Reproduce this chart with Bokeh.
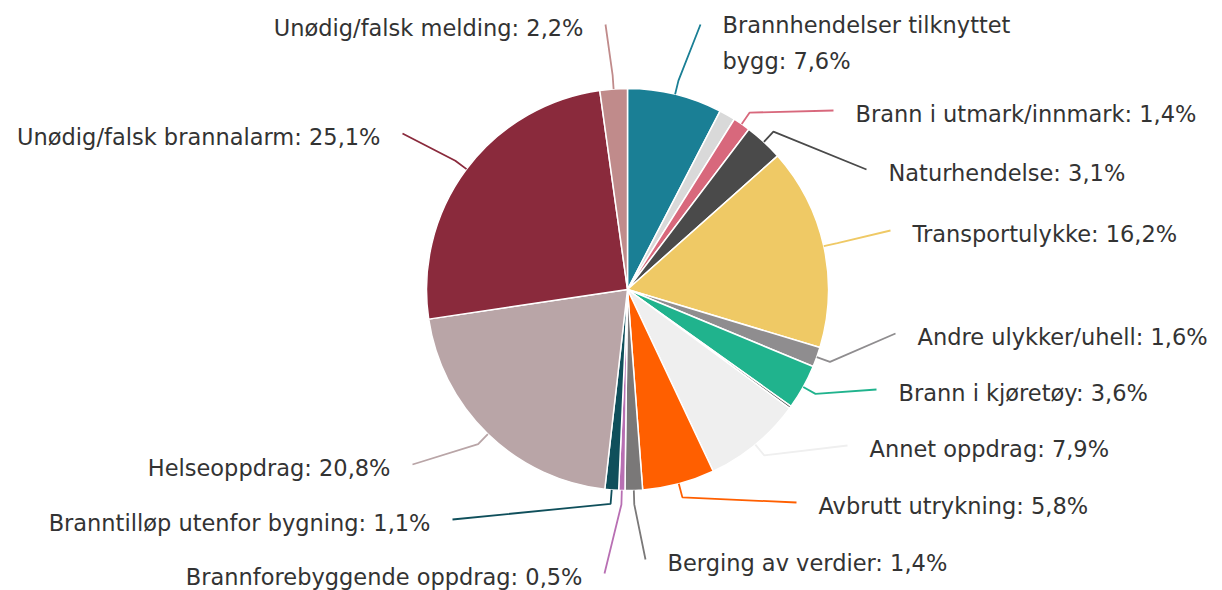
import math
from bokeh.plotting import figure
from bokeh.models import Range1d, ColumnDataSource
from bokeh.embed import file_html
from bokeh.resources import INLINE
from bokeh.core.properties import value

# ---- data (clockwise from 12 o'clock) ----
categories = [
    "Brannhendelser tilknyttet\nbygg", "", "Brann i utmark/innmark", "Naturhendelse",
    "Transportulykke", "Andre ulykker/uhell", "Brann i kjøretøy", "",
    "Annet oppdrag", "Avbrutt utrykning", "Berging av verdier",
    "Brannforebyggende oppdrag", "Branntilløp utenfor bygning", "Helseoppdrag",
    "Unødig/falsk brannalarm", "Unødig/falsk melding",
]
shares = [7.6, 1.3, 1.4, 3.1, 16.2, 1.6, 3.6, 0.2, 7.9, 5.8, 1.4, 0.5, 1.1, 20.8, 25.1, 2.2]
colors = [
    "#1a7f95", "#d9d9d9", "#d8687c", "#4a4a4a", "#efc965", "#8f8d8f", "#20b38d", "#5a5a5a",
    "#efefef", "#ff5f00", "#7a7878", "#b86fb3", "#0f4f5b", "#b9a5a7", "#8a2a3c", "#c08b8b",
]

# ---- layout (label anchor in picture pixels; side: +1 right / -1 left) ----
label_x = [722, 0, 855, 888, 912, 917, 898, 0, 869, 818, 667, 582, 430, 390, 380, 583]
label_y = [27, 0, 113, 172, 233, 336, 392, 0, 448, 505, 562, 576, 522, 467, 136, 27]
label_side = [1, 0, 1, 1, 1, 1, 1, 0, 1, 1, 1, -1, -1, -1, -1, -1]

W, H = 1222, 590
CX, CY, R = 627, 289, 201          # picture pixels
FONT = "DejaVu Sans"
FS = 22.5
LINE_H = 31

def py(y):  # picture y -> data y
    return H - y

total = sum(shares)
starts, ends, cum = [], [], 0.0
for s in shares:
    starts.append(math.pi / 2 - 2 * math.pi * cum / total)
    cum += s
    ends.append(math.pi / 2 - 2 * math.pi * cum / total)

p = figure(width=W, height=H, x_range=Range1d(0, W), y_range=Range1d(0, H),
           output_backend="svg", toolbar_location=None,
           x_axis_location=None, y_axis_location=None, min_border=0)
p.grid.visible = False
p.outline_line_color = None
p.background_fill_color = "white"
p.border_fill_color = "white"

src = ColumnDataSource(dict(start=starts, end=ends, color=colors))
p.wedge(x=CX, y=py(CY), radius=R, start_angle="start", end_angle="end",
        direction="clock", fill_color="color", line_color="white", line_width=1.5, source=src)

# connectors
xs, ys, ccol = [], [], []
for i, s in enumerate(shares):
    if label_side[i] == 0:
        continue
    mid = (starts[i] + ends[i]) / 2
    ex, ey = CX + R * math.cos(mid), py(CY) + R * math.sin(mid)
    ox, oy = CX + (R + 14) * math.cos(mid), py(CY) + (R + 14) * math.sin(mid)
    tx = label_x[i] - 22 * label_side[i]
    ty = py(label_y[i]) + 3
    xs.append([ex, ox, tx])
    ys.append([ey, oy, ty])
    ccol.append(colors[i])
p.multi_line(xs, ys, line_color=ccol, line_width=1.8)

# labels
for side, align in ((1, "left"), (-1, "right")):
    tx, ty, tt = [], [], []
    for i, s in enumerate(shares):
        if label_side[i] != side:
            continue
        txt = f"{categories[i]}: " + f"{s:.1f}".replace(".", ",") + "%"
        n = txt.count("\n") + 1
        tx.append(label_x[i])
        ty.append(py(label_y[i]) - (n - 1) * LINE_H / 2)
        tt.append(txt)
    p.text(x=tx, y=ty, text=tt, text_align=align, text_baseline="middle",
           text_font=value(FONT), text_font_size=f"{FS}px", text_color="#333333",
           text_line_height=1.38)

open("out.html", "w").write(file_html(p, INLINE))
